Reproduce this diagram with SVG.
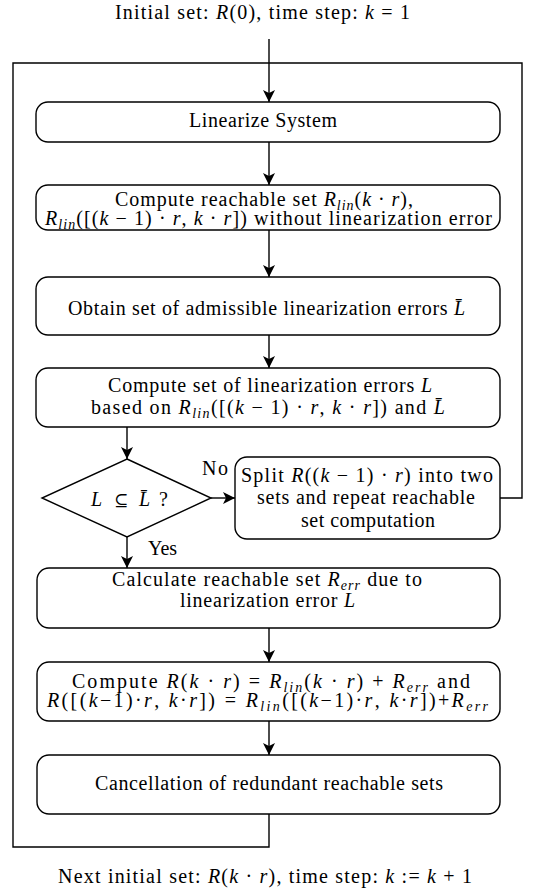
<svg xmlns="http://www.w3.org/2000/svg" width="534" height="892" viewBox="0 0 534 892">
<defs>
<marker id="ah" viewBox="0 0 12 12" refX="12" refY="6" markerWidth="12" markerHeight="12" markerUnits="userSpaceOnUse" orient="auto">
<path d="M0,0 L12,6 L0,12 L3,6 Z" fill="#000"/>
</marker>
</defs>
<rect width="534" height="892" fill="#fff"/>

<g id="connectors" fill="none" stroke="#000" stroke-width="1.4">
<path marker-end="url(#ah)" d="M269,39 V102"/>
<path marker-end="url(#ah)" d="M269,142 V185"/>
<path marker-end="url(#ah)" d="M269,230 V277"/>
<path marker-end="url(#ah)" d="M269,335 V368"/>
<path marker-end="url(#ah)" d="M127,427 V459"/>
<path marker-end="url(#ah)" d="M211,498 H235"/>
<path marker-end="url(#ah)" d="M127,537 V568"/>
<path marker-end="url(#ah)" d="M269,628 V662"/>
<path marker-end="url(#ah)" d="M269,721 V755"/>
<path d="M500,498 H522 V63 H13 V847 H269 V814"/>
</g>
<g id="labels">
<text x="202" y="475" textLength="26" style="font-family:'Liberation Serif';font-size:20px">No</text>
<text x="148" y="555" textLength="29" style="font-family:'Liberation Serif';font-size:20px">Yes</text>
</g>

<g id="start">
<text x="115" y="19" textLength="295" style="font-family:'Liberation Serif';font-size:20px">Initial set: <tspan font-style="italic">R</tspan>(0), time step: <tspan font-style="italic">k</tspan> = 1</text>
</g>

<g id="n1">
<rect fill="#fff" stroke="#000" stroke-width="1.4" x="36" y="102" width="464" height="40" rx="12"/>
<text x="189" y="127" textLength="148" style="font-family:'Liberation Serif';font-size:20px">Linearize System</text>
</g>

<g id="n2">
<rect fill="#fff" stroke="#000" stroke-width="1.4" x="36" y="185" width="464" height="45" rx="12"/>
<text x="115" y="206" textLength="298" style="font-family:'Liberation Serif';font-size:20px">Compute reachable set <tspan font-style="italic">R</tspan><tspan font-style="italic" font-size="14" dy="4">lin</tspan><tspan dy="-4">(</tspan><tspan font-style="italic">k</tspan> &#xB7; <tspan font-style="italic">r</tspan>),</text>
<text x="45" y="225" textLength="447" style="font-family:'Liberation Serif';font-size:20px"><tspan font-style="italic">R</tspan><tspan font-style="italic" font-size="14" dy="4">lin</tspan><tspan dy="-4">([(</tspan><tspan font-style="italic">k</tspan> &#x2212; 1) &#xB7; <tspan font-style="italic">r</tspan>, <tspan font-style="italic">k</tspan> &#xB7; <tspan font-style="italic">r</tspan>]) without linearization error</text>
</g>

<g id="n3">
<rect fill="#fff" stroke="#000" stroke-width="1.4" x="36" y="277" width="464" height="58" rx="12"/>
<text x="68" y="315" textLength="397" style="font-family:'Liberation Serif';font-size:20px">Obtain set of admissible linearization errors <tspan font-style="italic">L&#x304;</tspan></text>
</g>

<g id="n4">
<rect fill="#fff" stroke="#000" stroke-width="1.4" x="36" y="368" width="464" height="59" rx="12"/>
<text x="108" y="392" textLength="324" style="font-family:'Liberation Serif';font-size:20px">Compute set of linearization errors <tspan font-style="italic">L</tspan></text>
<text x="91" y="414" textLength="354" style="font-family:'Liberation Serif';font-size:20px">based on <tspan font-style="italic">R</tspan><tspan font-style="italic" font-size="14" dy="4">lin</tspan><tspan dy="-4">([(</tspan><tspan font-style="italic">k</tspan> &#x2212; 1) &#xB7; <tspan font-style="italic">r</tspan>, <tspan font-style="italic">k</tspan> &#xB7; <tspan font-style="italic">r</tspan>]) and <tspan font-style="italic">L&#x304;</tspan></text>
</g>

<g id="decision">
<path fill="#fff" stroke="#000" stroke-width="1.4" d="M127,459 L211,498 L127,537 L42,498 Z"/>
<text x="91" y="506" style="font-family:'Liberation Serif';font-size:20px;font-style:italic">L</text>
<text x="114" y="506" style="font-family:'DejaVu Serif';font-size:17px">&#x2286;</text>
<text x="139" y="506" style="font-family:'Liberation Serif';font-size:20px;font-style:italic">L&#x304;</text>
<text x="159" y="506" style="font-family:'Liberation Serif';font-size:20px">?</text>
</g>

<g id="split">
<rect fill="#fff" stroke="#000" stroke-width="1.4" x="235" y="457" width="265" height="82" rx="12"/>
<text x="241" y="482" textLength="252" style="font-family:'Liberation Serif';font-size:20px">Split <tspan font-style="italic">R</tspan>((<tspan font-style="italic">k</tspan> &#x2212; 1) &#xB7; <tspan font-style="italic">r</tspan>) into two</text>
<text x="257" y="504" textLength="218" style="font-family:'Liberation Serif';font-size:20px">sets and repeat reachable</text>
<text x="301" y="527" textLength="134" style="font-family:'Liberation Serif';font-size:20px">set computation</text>
</g>

<g id="n5">
<rect fill="#fff" stroke="#000" stroke-width="1.4" x="37" y="568" width="463" height="60" rx="12"/>
<text x="112" y="586" textLength="310" style="font-family:'Liberation Serif';font-size:20px">Calculate reachable set <tspan font-style="italic">R</tspan><tspan font-style="italic" font-size="14" dy="4">err</tspan><tspan dy="-4"> due to</tspan></text>
<text x="180" y="607" textLength="175" style="font-family:'Liberation Serif';font-size:20px">linearization error <tspan font-style="italic">L</tspan></text>
</g>

<g id="n6">
<rect fill="#fff" stroke="#000" stroke-width="1.4" x="37" y="662" width="463" height="59" rx="12"/>
<text x="72" y="688" textLength="398" style="font-family:'Liberation Serif';font-size:20px">Compute <tspan font-style="italic">R</tspan>(<tspan font-style="italic">k</tspan> &#xB7; <tspan font-style="italic">r</tspan>) = <tspan font-style="italic">R</tspan><tspan font-style="italic" font-size="14" dy="4">lin</tspan><tspan dy="-4">(</tspan><tspan font-style="italic">k</tspan> &#xB7; <tspan font-style="italic">r</tspan>) + <tspan font-style="italic">R</tspan><tspan font-style="italic" font-size="14" dy="4">err</tspan><tspan dy="-4"> and</tspan></text>
<text x="47" y="707" textLength="441" style="font-family:'Liberation Serif';font-size:20px"><tspan font-style="italic">R</tspan>([(<tspan font-style="italic">k</tspan>&#x2212;1)&#xB7;<tspan font-style="italic">r</tspan>, <tspan font-style="italic">k</tspan>&#xB7;<tspan font-style="italic">r</tspan>]) = <tspan font-style="italic">R</tspan><tspan font-style="italic" font-size="14" dy="4">lin</tspan><tspan dy="-4">([(</tspan><tspan font-style="italic">k</tspan>&#x2212;1)&#xB7;<tspan font-style="italic">r</tspan>, <tspan font-style="italic">k</tspan>&#xB7;<tspan font-style="italic">r</tspan>])+<tspan font-style="italic">R</tspan><tspan font-style="italic" font-size="14" dy="4">err</tspan></text>
</g>

<g id="n7">
<rect fill="#fff" stroke="#000" stroke-width="1.4" x="37" y="755" width="463" height="59" rx="12"/>
<text x="95" y="790" textLength="348" style="font-family:'Liberation Serif';font-size:20px">Cancellation of redundant reachable sets</text>
</g>

<g id="end">
<text x="58" y="883" textLength="414" style="font-family:'Liberation Serif';font-size:20px">Next initial set: <tspan font-style="italic">R</tspan>(<tspan font-style="italic">k</tspan> &#xB7; <tspan font-style="italic">r</tspan>), time step: <tspan font-style="italic">k</tspan> := <tspan font-style="italic">k</tspan> + 1</text>
</g>
</svg>
